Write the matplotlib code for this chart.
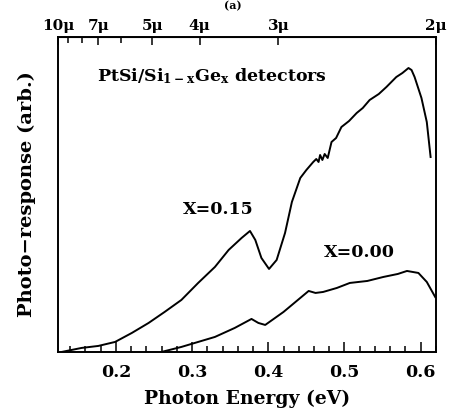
import numpy as np
import matplotlib
matplotlib.use("Agg")
import matplotlib.pyplot as plt
from matplotlib.ticker import MultipleLocator, NullLocator

# photon energy (eV) / photo-response (arb.)
e_x015 = [0.129, 0.155, 0.177, 0.199, 0.221, 0.243, 0.264, 0.286, 0.308, 0.330,
          0.348, 0.365, 0.376, 0.383, 0.391, 0.401, 0.411, 0.422, 0.431, 0.442,
          0.450, 0.459, 0.463, 0.466, 0.468, 0.471, 0.474, 0.478, 0.483, 0.489,
          0.496, 0.506, 0.516, 0.524, 0.533, 0.545, 0.555, 0.568, 0.576, 0.584,
          0.588, 0.592, 0.601, 0.608, 0.613]
r_x015 = [0, 4, 6, 10, 19, 29, 40, 52, 69, 85,
          102, 114, 121, 112, 94, 83, 92, 119, 150, 174,
          182, 190, 193, 190, 197, 192, 198, 194, 210, 214,
          225, 231, 239, 244, 252, 258, 265, 275, 279, 284,
          282, 275, 254, 230, 195]

e_x000 = [0.260, 0.286, 0.308, 0.330, 0.356, 0.378, 0.387, 0.396, 0.420, 0.442,
          0.453, 0.462, 0.472, 0.490, 0.507, 0.530, 0.551, 0.570, 0.582, 0.597,
          0.608, 0.619]
r_x000 = [0, 5, 10, 15, 24, 33, 29, 27, 40, 54,
          61, 59, 60, 64, 69, 71, 75, 78, 81, 79,
          70, 55]

# top axis: wavelength in microns
wl_major = [10, 7, 5, 4, 3, 2]
wl_minor = [9, 8, 6]

plt.rcParams['font.family'] = ['DejaVu Serif']
plt.rcParams['font.weight'] = 'bold'
plt.rcParams['mathtext.fontset'] = 'dejavuserif'

fig = plt.figure(figsize=(4.56, 4.16), dpi=100)
ax = fig.add_axes([0.127, 0.154, 0.829, 0.757])

ax.plot(e_x015, r_x015, color='black', lw=1.4)
ax.plot(e_x000, r_x000, color='black', lw=1.4)

ax.set_xlim(0.124, 0.62)
ax.set_ylim(0, 315)

ax.xaxis.set_major_locator(MultipleLocator(0.1))
ax.xaxis.set_minor_locator(MultipleLocator(0.02))
ax.yaxis.set_major_locator(NullLocator())
ax.tick_params(axis='x', which='major', direction='in', length=7, width=1.1,
               labelsize=12.5, pad=9)
ax.tick_params(axis='x', which='minor', direction='in', length=4, width=1.1)
for s in ax.spines.values():
    s.set_linewidth(1.4)

ax.set_xlabel('Photon Energy (eV)', fontsize=13.5, fontweight='bold', labelpad=6)
ax.set_ylabel('Photo\u2212response (arb.)', fontsize=14, fontweight='bold', labelpad=16)

top = ax.secondary_xaxis('top', functions=(lambda e: 1.24 / np.clip(e, 1e-6, None),
                                           lambda w: 1.24 / np.clip(w, 1e-6, None)))
top.set_xticks(wl_major)
top.set_xticklabels([f'{w}\u03bc' for w in wl_major])
top.set_xticks(wl_minor, minor=True)
top.tick_params(axis='x', which='major', direction='in', length=6, width=1.1,
                labelsize=11, pad=3)
top.tick_params(axis='x', which='minor', direction='in', length=4, width=1.1)

ax.text(0.175, 276, r'PtSi/Si$_{\mathbf{1-x}}$Ge$_{\mathbf{x}}$ detectors',
        fontsize=12.5, fontweight='bold', va='center', ha='left')
ax.text(0.334, 142, 'X=0.15', fontsize=12.5, fontweight='bold', ha='center', va='center')
ax.text(0.519, 99, 'X=0.00', fontsize=12.5, fontweight='bold', ha='center', va='center')

fig.text(0.51, 0.999, '(a)', fontsize=8, fontweight='bold', ha='center', va='top')

fig.savefig('out.png', dpi=100)
